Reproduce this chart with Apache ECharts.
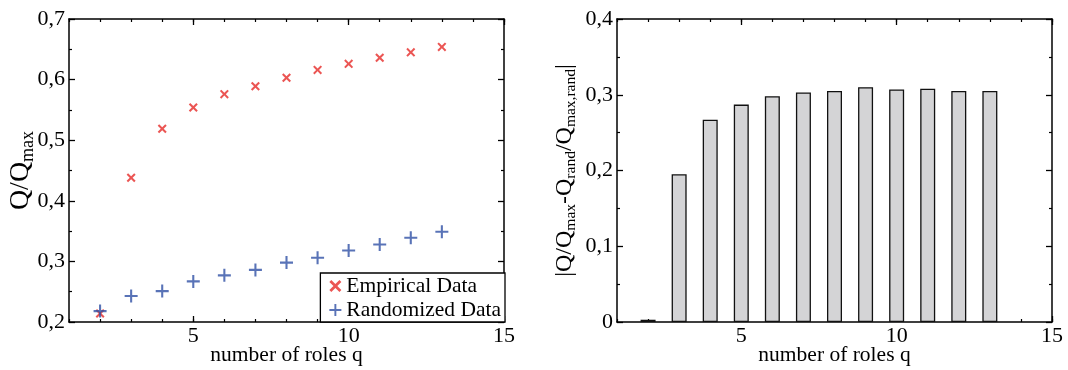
<!DOCTYPE html>
<html>
<head>
<meta charset="utf-8">
<script src="https://cdn.jsdelivr.net/npm/echarts@6/dist/echarts.min.js"></script>
<style>
  html, body { margin: 0; padding: 0; background: #fff; }
  #chart { width: 1068px; height: 370px; }
</style>
</head>
<body>
<div id="chart"></div>
<script>
// number of roles q
const roles = [2, 3, 4, 5, 6, 7, 8, 9, 10, 11, 12, 13]
const empirical = [0.214, 0.438, 0.519, 0.554, 0.576, 0.589, 0.603, 0.616, 0.626, 0.636, 0.645, 0.654]
const randomized = [0.218, 0.243, 0.251, 0.267, 0.277, 0.286, 0.298, 0.306, 0.318, 0.328, 0.339, 0.349]
const difference = [0.003, 0.195, 0.267, 0.287, 0.298, 0.303, 0.305, 0.310, 0.307, 0.308, 0.305, 0.305]
const xMajorTicks = [5, 10, 15]

const FONT = 'Liberation Serif'
const chart = echarts.init(document.getElementById('chart'), null, { renderer: 'canvas' })

const line = { show: true, lineStyle: { color: '#000', width: 1.5 } }
const comma = v => (v === 0 ? '0' : v.toFixed(1).replace('.', ','))

function xAxes(grid) {
  return [
    {
      gridIndex: grid, type: 'value', position: 'bottom', offset: 0, min: 1, max: 15,
      axisLine: line, splitLine: { show: false },
      axisTick: { inside: true, length: 6, customValues: xMajorTicks, lineStyle: { color: '#000', width: 1.3 } },
      axisLabel: { customValues: xMajorTicks, color: '#000', fontFamily: FONT, fontSize: 22, margin: 3 },
      name: 'number of roles q', nameLocation: 'middle', nameGap: 22, nameMoveOverlap: false,
      nameTextStyle: { color: '#000', fontFamily: FONT, fontSize: 21.5 },
    },
    {
      gridIndex: grid, type: 'value', position: 'bottom', offset: 0, min: 1, max: 15, interval: 1,
      axisLine: { show: false }, splitLine: { show: false }, axisLabel: { show: false },
      axisTick: { inside: true, length: 3, lineStyle: { color: '#000', width: 1.2 } },
    },
    {
      gridIndex: grid, type: 'value', position: 'top', offset: 0, min: 1, max: 15,
      axisLine: line, splitLine: { show: false }, axisLabel: { show: false },
      axisTick: { inside: true, length: 6, customValues: xMajorTicks, lineStyle: { color: '#000', width: 1.3 } },
    },
    {
      gridIndex: grid, type: 'value', position: 'top', offset: 0, min: 1, max: 15, interval: 1,
      axisLine: { show: false }, splitLine: { show: false }, axisLabel: { show: false },
      axisTick: { inside: true, length: 3, lineStyle: { color: '#000', width: 1.2 } },
    },
  ]
}

function yAxes(grid, min, max, name, rich, gap) {
  const tick = { inside: true, length: 6, lineStyle: { color: '#000', width: 1.3 } }
  const minor = { show: true, splitNumber: 2, length: 3, lineStyle: { color: '#000', width: 1.2 } }
  return [
    {
      gridIndex: grid, type: 'value', position: 'left', min, max, interval: 0.1,
      axisLine: line, splitLine: { show: false }, minorSplitLine: { show: false },
      axisTick: tick, minorTick: minor,
      axisLabel: { formatter: comma, color: '#000', fontFamily: FONT, fontSize: 22, margin: 4 },
      name, nameLocation: 'middle', nameGap: gap, nameRotate: 90, nameMoveOverlap: false,
      nameTextStyle: { color: '#000', fontFamily: FONT, rich },
    },
    {
      gridIndex: grid, type: 'value', position: 'right', min, max, interval: 0.1,
      axisLine: line, splitLine: { show: false }, minorSplitLine: { show: false },
      axisTick: tick, minorTick: minor, axisLabel: { show: false },
    },
  ]
}

const richLeft = {
  n: { fontFamily: FONT, fontSize: 28, color: '#000', lineHeight: 32 },
  s: { fontFamily: FONT, fontSize: 18, color: '#000', lineHeight: 18, padding: [14, 0, 0, 0] },
}
const richRight = {
  n: { fontFamily: FONT, fontSize: 24, color: '#000', lineHeight: 28 },
  s: { fontFamily: FONT, fontSize: 15.5, color: '#000', lineHeight: 16, padding: [12, 0, 0, 0] },
}

const crossPath = 'path://M0,1.6L1.6,0L5,3.4L8.4,0L10,1.6L6.6,5L10,8.4L8.4,10L5,6.6L1.6,10L0,8.4L3.4,5Z'
const plusPath = 'path://M4.2,0H5.8V4.2H10V5.8H5.8V10H4.2V5.8H0V4.2H4.2Z'

chart.setOption({
  animation: false,
  backgroundColor: '#fff',
  grid: [
    { left: 69, top: 19, width: 435, height: 303, outerBoundsMode: 'none' },
    { left: 617, top: 19, width: 435, height: 303, outerBoundsMode: 'none' },
  ],
  xAxis: [...xAxes(0), ...xAxes(1)],
  yAxis: [
    ...yAxes(0, 0.2, 0.7, '{n|Q/Q}{s|max}', richLeft, 32),
    ...yAxes(1, 0, 0.4, '{n||Q/Q}{s|max}{n|-Q}{s|rand}{n|/Q}{s|max,rand}{n||}', richRight, 38),
  ],
  legend: {
    right: 563, bottom: 48, orient: 'vertical',
    backgroundColor: '#fff', borderColor: '#000', borderWidth: 1.3,
    padding: [2, 4, 1, 9], itemGap: 2, itemWidth: 12, itemHeight: 12,
    textStyle: { color: '#000', fontFamily: FONT, fontSize: 21.5 },
    data: ['Empirical Data', 'Randomized Data'],
  },
  series: [
    {
      name: 'Empirical Data', type: 'scatter', xAxisIndex: 0, yAxisIndex: 0,
      symbol: crossPath, symbolSize: 9, itemStyle: { color: '#e62a28' },
      data: roles.map((q, i) => [q, empirical[i]]),
    },
    {
      name: 'Randomized Data', type: 'scatter', xAxisIndex: 0, yAxisIndex: 0,
      symbol: plusPath, symbolSize: 13, itemStyle: { color: '#3050a5' },
      data: roles.map((q, i) => [q, randomized[i]]),
    },
    {
      name: 'difference', type: 'bar', xAxisIndex: 4, yAxisIndex: 2, barWidth: 15,
      itemStyle: { color: '#d4d4d6', borderColor: '#111', borderWidth: 1.3 },
      data: roles.map((q, i) => [q, difference[i]]),
    },
  ],
})
</script>
</body>
</html>
